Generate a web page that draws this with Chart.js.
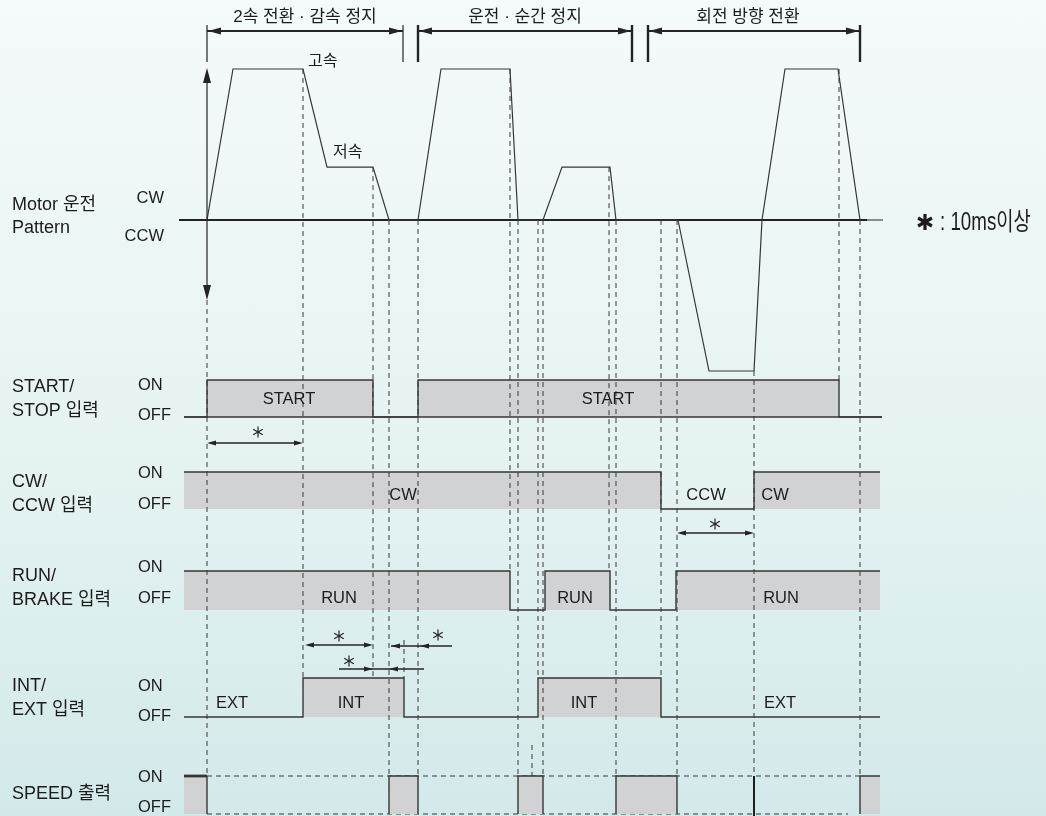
<!DOCTYPE html>
<html lang="ko">
<head>
<meta charset="UTF-8">
<title>Motor 운전 타이밍 차트</title>
<script src="https://cdn.jsdelivr.net/npm/chart.js@4"></script>
<style>
    html, body { margin: 0; padding: 0; }
    body {
        width: 1046px; height: 816px; overflow: hidden;
        background: linear-gradient(to bottom, #f5fafb 0%, #e6f3f3 55%, #d3e9e9 100%);
    }
    #wrap { position: relative; width: 1046px; height: 816px; }
</style>
</head>
<body>
<div id="wrap"><canvas id="timing"></canvas></div>
<script>
// ---- data (time axis runs 0..1046) ----
const motorTime  = [207, 233, 303, 327, 373, 389, 418, 441, 510, 518, 543, 562, 610, 616, 678, 709, 754, 762, 785, 838, 860];
const motorSpeed = [0, 1, 1, 0.35, 0.35, 0, 0, 1, 1, 0, 0, 0.35, 0.35, 0, 0, -1, -1, 0, 1, 1, 0];

// level holds from time[i] until time[i+1]
const startTime  = [184, 207, 373, 418, 839, 882];
const startLevel = [0, 1, 0, 1, 0, 0];
const dirTime    = [184, 661, 754, 880];
const dirLevel   = [1, 0, 1, 1];
const runTime    = [184, 510, 545, 610, 676, 880];
const runLevel   = [1, 0, 1, 0, 1, 1];
const intTime    = [184, 303, 404, 538, 661, 880];
const intLevel   = [0, 1, 0, 1, 0, 0];

// SPEED output ON intervals
const speedOnFrom = [184, 389, 518, 616, 860];
const speedOnTo   = [207, 418, 543, 677, 880];

// dashed timing guides: time, from anchor, to anchor
const guideTime = [207, 303, 373, 389, 418, 510, 518, 538, 543, 609, 616, 661, 677, 754, 839, 860, 404, 532];
const guideFrom = ['arrow', 'hi', 'lo', 'zero', 'zero', 'hi', 'zero', 'zero', 'zero', 'lo', 'zero', 'zero', 'zero', 'ccw', 'hi', 'zero', 'intStub', 'speedStub'];
const guideTo   = ['speedOn', 'intOn', 'intOn', 'speedOn', 'speedOn', 'runOn', 'speedOn', 'intOn', 'speedOn', 'runOn', 'speedOn', 'intOn', 'speedOn', 'speedOn', 'startOn', 'speedOn', 'intOn', 'speedOn'];

// "* : 10ms이상" intervals
const gapFrom = [207, 677, 305, 373, 391];
const gapTo   = [303, 754, 373, 389, 420];

// sections on top
const sectionName = ['2속 전환 · 감속 정지', '운전 · 순간 정지', '회전 방향 전환'];
const sectionFrom = [207, 418, 648];
const sectionTo   = [403, 632, 860];

// ---- layout (diagram units, y runs downward) ----
const L = {
    frame: [184, 880],
    motor: { zero: 220, unit: 151, axis: [179, 867, 883], arrow: [68, 300] },
    start: { on: 380, off: 417, textY: 399 },
    dir:   { on: 472, off: 509, textY: 495 },
    run:   { on: 571, off: 610, textY: 598 },
    int:   { on: 678, off: 717, textY: 703 },
    speed: { on: 776, off: 814, end: 816 }
};
const sectionShift = [0, 0, -6];
const mv = v => L.motor.zero - v * L.motor.unit;
const lv = (row, v) => row.off + (row.on - row.off) * v;
const ANCHOR = {
    hi: mv(1), lo: mv(0.35), zero: mv(0), ccw: mv(-1), arrow: L.motor.arrow[1],
    startOn: L.start.on, runOn: L.run.on, intOn: L.int.on, intStub: 640,
    speedStub: 745, speedOn: L.speed.on
};

const LINE = '#363636';
const GRAY = '#d1d2d4';
const INK = '#1c1c1c';
const FONT = '"Liberation Sans", "Noto Sans CJK KR", sans-serif';

const pts = (ts, vs, f) => ts.map((t, i) => ({ x: t, y: f(vs[i]) }));

function guidePoints() {
    const p = [];
    guideTime.forEach((t, i) => {
        p.push({ x: t, y: ANCHOR[guideFrom[i]] }, { x: t, y: ANCHOR[guideTo[i]] }, { x: t, y: null });
    });
    return p;
}

function pulsePoints(from, to, row) {
    const p = [];
    from.forEach((a, i) => {
        p.push({ x: a, y: row.off }, { x: a, y: row.on }, { x: to[i], y: row.on }, { x: to[i], y: row.off });
    });
    return p;
}

function signal(ts, vs, row) {
    return {
        type: 'line', data: pts(ts, vs, v => lv(row, v)), stepped: true,
        borderColor: LINE, borderWidth: 1.4, backgroundColor: GRAY,
        fill: { value: row.off }, pointRadius: 0, order: 5
    };
}

function straight(points, width, color, dash, order) {
    return {
        type: 'line', data: points, borderColor: color, borderWidth: width,
        borderDash: dash || [], fill: false, pointRadius: 0, order: order
    };
}

// ---- drawing helpers for the annotations ----
function head(ctx, x, y, dx, dy, len, half) {
    ctx.beginPath();
    ctx.moveTo(x, y);
    ctx.lineTo(x - dx * len - dy * half, y - dy * len + dx * half);
    ctx.lineTo(x - dx * len + dy * half, y - dy * len - dx * half);
    ctx.closePath();
    ctx.fill();
}

function seg(ctx, x1, y1, x2, y2, w) {
    ctx.lineWidth = w;
    ctx.beginPath();
    ctx.moveTo(x1, y1);
    ctx.lineTo(x2, y2);
    ctx.stroke();
}

function star(ctx, x, y, r, w) {
    ctx.lineWidth = w;
    for (let k = 0; k < 3; k++) {
        const a = Math.PI / 2 + k * Math.PI / 3;
        ctx.beginPath();
        ctx.moveTo(x - r * Math.cos(a), y - r * Math.sin(a));
        ctx.lineTo(x + r * Math.cos(a), y + r * Math.sin(a));
        ctx.stroke();
    }
}

function text(ctx, s, x, y, size, align) {
    ctx.font = size + 'px ' + FONT;
    ctx.textAlign = align || 'left';
    ctx.textBaseline = 'middle';
    ctx.fillText(s, x, y);
}

const gapStyle = [
    { y: 443, kind: 'in', star: [258, 432] },
    { y: 533, kind: 'in', star: [715, 524] },
    { y: 645, kind: 'in', star: [339, 636] },
    { y: 669, kind: 'out', line: [339, 424], star: [349, 661] },
    { y: 646, kind: 'left', line: [391, 452], star: [438, 635] }
];

const rowTitles = [
    [['Motor 운전', 205], ['Pattern', 228]],
    [['START/', 387], ['STOP 입력', 411]],
    [['CW/', 482], ['CCW 입력', 506]],
    [['RUN/', 576], ['BRAKE 입력', 600]],
    [['INT/', 686], ['EXT 입력', 710]],
    [['SPEED 출력', 794]]
];
const onOff = [[385, 415], [473, 504], [567, 598], [686, 716], [777, 807]];
const boxLabels = [
    ['START', 289, 'start'], ['START', 608, 'start'],
    ['CW', 403, 'dir'], ['CCW', 706, 'dir'], ['CW', 775, 'dir'],
    ['RUN', 339, 'run'], ['RUN', 575, 'run'], ['RUN', 781, 'run'],
    ['EXT', 232, 'int'], ['INT', 351, 'int'], ['INT', 584, 'int'], ['EXT', 780, 'int']
];

const diagramDecor = {
    id: 'diagramDecor',
    afterDraw(chart) {
        const ctx = chart.ctx;
        const X = v => chart.scales.x.getPixelForValue(v);
        const Y = v => chart.scales.y.getPixelForValue(v);
        ctx.save();
        ctx.strokeStyle = '#242424';
        ctx.fillStyle = '#242424';
        ctx.lineCap = 'butt';

        // section brackets
        sectionName.forEach((name, i) => {
            const a = X(sectionFrom[i]), b = X(sectionTo[i]);
            const w = i === 0 ? 1.2 : 2.4;
            seg(ctx, a, Y(25), a, Y(62), w);
            seg(ctx, b, Y(25), b, Y(62), w);
            seg(ctx, a, Y(31), b, Y(31), 2);
            head(ctx, a + 1, Y(31), -1, 0, 13, 3.5);
            head(ctx, b - 1, Y(31), 1, 0, 13, 3.5);
            ctx.fillStyle = INK;
            text(ctx, name, (a + b) / 2 + sectionShift[i], Y(17), 17, 'center');
            ctx.fillStyle = '#242424';
        });

        // vertical motor arrow
        const ax = X(motorTime[0]);
        seg(ctx, ax, Y(L.motor.arrow[0] + 6), ax, Y(L.motor.arrow[1] - 6), 1.2);
        head(ctx, ax, Y(L.motor.arrow[0]), 0, -1, 15, 4);
        head(ctx, ax, Y(L.motor.arrow[1]), 0, 1, 15, 4);

        // 10ms intervals
        gapFrom.forEach((f, i) => {
            const g = gapStyle[i];
            const y = Y(g.y), a = X(f), b = X(gapTo[i]);
            if (g.kind === 'in') {
                seg(ctx, a + 3, y, b - 3, y, 1.7);
                head(ctx, a, y, -1, 0, 9, 2.6);
                head(ctx, b, y, 1, 0, 9, 2.6);
            } else if (g.kind === 'out') {
                seg(ctx, X(g.line[0]), y, X(g.line[1]), y, 1.7);
                head(ctx, a, y, 1, 0, 9, 2.6);
                head(ctx, b, y, -1, 0, 9, 2.6);
            } else {
                seg(ctx, X(g.line[0]), y, X(g.line[1]), y, 1.7);
                head(ctx, a, y, -1, 0, 9, 2.6);
                head(ctx, b, y, -1, 0, 9, 2.6);
            }
            star(ctx, X(g.star[0]), Y(g.star[1]), 5.5, 1.2);
        });

        ctx.fillStyle = INK;
        // speed labels on motor pattern
        text(ctx, '고속', X(308), Y(62), 16);
        text(ctx, '저속', X(333), Y(153), 16);

        // row titles and levels
        rowTitles.forEach(lines => lines.forEach(([s, y]) => text(ctx, s, 12, Y(y), 18)));
        text(ctx, 'CW', 164, Y(198), 16.5, 'right');
        text(ctx, 'CCW', 164, Y(236), 16.5, 'right');
        onOff.forEach(([on, off]) => {
            text(ctx, 'ON', 138, Y(on), 16.5);
            text(ctx, 'OFF', 138, Y(off), 16.5);
        });

        // labels inside the signal rows
        boxLabels.forEach(([s, t, row]) => text(ctx, s, X(t), Y(L[row].textY), 16.5, 'center'));

        // legend: * : 10ms이상
        ctx.strokeStyle = INK;
        star(ctx, 925, Y(222), 8, 3.2);
        ctx.save();
        ctx.translate(940, Y(223));
        ctx.scale(0.75, 1);
        text(ctx, ': 10ms이상', 0, 0, 25);
        ctx.restore();

        ctx.restore();
    }
};

const speedRow = L.speed;
new Chart(document.getElementById('timing'), {
    data: {
        datasets: [
            straight(guidePoints(), 1, '#383838', [5, 4], 0),
            straight(pts(motorTime, motorSpeed, mv), 1.2, LINE, null, 1),
            straight([{ x: L.motor.axis[0], y: mv(0) }, { x: L.motor.axis[1], y: mv(0) }], 2.2, '#222', null, 2),
            straight([{ x: L.motor.axis[1], y: mv(0) }, { x: L.motor.axis[2], y: mv(0) }], 1, '#222', null, 2),
            straight([{ x: L.frame[0], y: L.start.off }, { x: startTime[startTime.length - 1], y: L.start.off }], 1.4, LINE, null, 3),
            signal(startTime, startLevel, L.start),
            signal(dirTime, dirLevel, L.dir),
            signal(runTime, runLevel, L.run),
            signal(intTime, intLevel, L.int),
            {
                type: 'line', data: pulsePoints(speedOnFrom, speedOnTo, speedRow),
                borderColor: LINE, borderWidth: 1.4, backgroundColor: GRAY,
                fill: { value: speedRow.off }, pointRadius: 0, order: 4,
                segment: {
                    borderColor: c => {
                        const a = c.p0.parsed, b = c.p1.parsed;
                        if (a.y === speedRow.off && b.y === speedRow.off) return 'transparent';
                        if (a.x === b.x && (a.x <= L.frame[0] || a.x >= L.frame[1])) return 'transparent';
                        return undefined;
                    },
                    borderWidth: c => (c.p0DataIndex === 1 ? 2.8 : undefined)
                }
            },
            straight([{ x: 207, y: speedRow.on }, { x: 860, y: speedRow.on }], 1, '#383838', [5, 4], 6),
            straight([{ x: 207, y: speedRow.off }, { x: 848, y: speedRow.off }], 1, '#383838', [5, 4], 6),
            straight([{ x: 754, y: speedRow.on }, { x: 754, y: speedRow.end }], 2, '#1e1e1e', null, 3)
        ]
    },
    options: {
        responsive: true,
        maintainAspectRatio: false,
        animation: false,
        events: [],
        layout: { padding: 0 },
        plugins: { legend: { display: false }, tooltip: { enabled: false } },
        scales: {
            x: { type: 'linear', min: 0, max: 1046, display: false },
            y: { type: 'linear', min: 0, max: 816, reverse: true, display: false }
        }
    },
    plugins: [diagramDecor]
});
</script>
</body>
</html>
